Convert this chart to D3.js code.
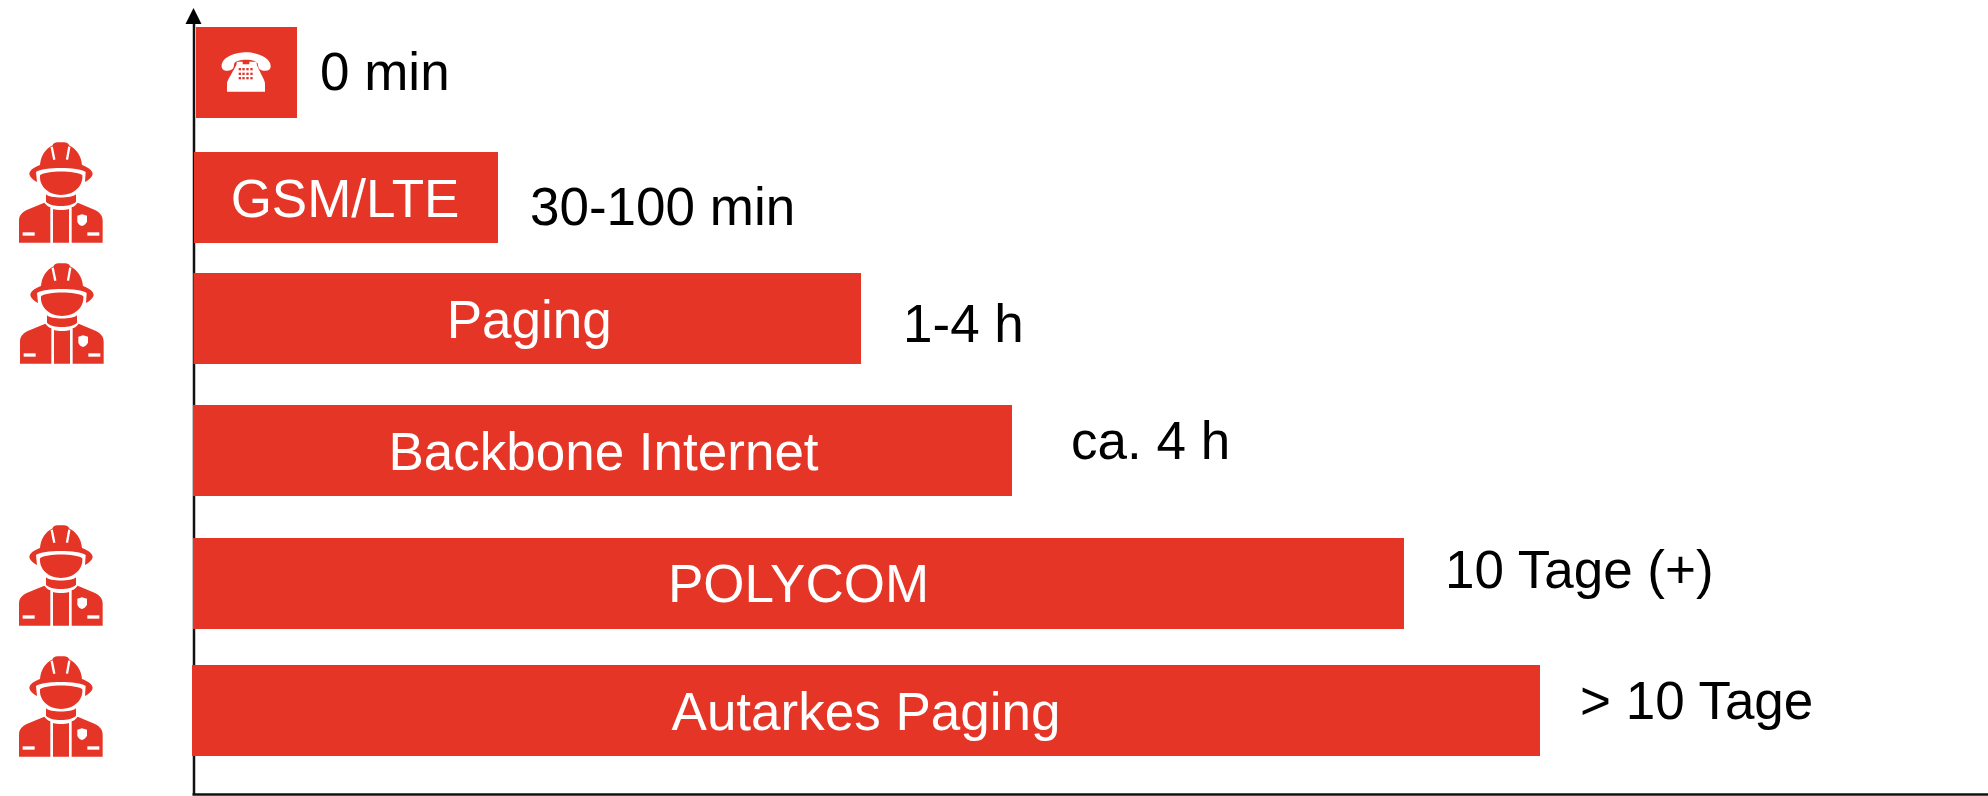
<!DOCTYPE html>
<html>
<head>
<meta charset="utf-8">
<script src="https://cdn.jsdelivr.net/npm/d3@7"></script>
<style>
    html, body { margin: 0; padding: 0; background: #fff; overflow: hidden; }
    text { font-family: "Liberation Sans", Arial, sans-serif; }
</style>
</head>
<body>
<svg id="chart" width="1988" height="796"></svg>
<script>
// Chart data (schematic time axis, no unit)
const categories = ["Telefon", "GSM/LTE", "Paging", "Backbone Internet", "POLYCOM", "Autarkes Paging"];
const barLabels = ["", "GSM/LTE", "Paging", "Backbone Internet", "POLYCOM", "Autarkes Paging"];
const barStart = [4, 2, 1.5, 1, 1, 0];
const barEnd = [105, 306, 669, 820, 1212, 1348];
const durations = ["0 min", "30-100 min", "1-4 h", "ca. 4 h", "10 Tage (+)", "> 10 Tage"];
const withResponder = [false, true, true, false, true, true];

const red = "#e53527";
const svg = d3.select("#chart");

const x = d3.scaleLinear().domain([0, 1796]).range([192, 1988]);
const yAxisScale = d3.scaleLinear().domain([0, 1]).range([794, 22]);

// Rows are not evenly spaced in the original
const barTop = d3.scaleOrdinal().domain(categories).range([27, 152, 273, 405, 538, 665]);
const barHeight = 91;
const labelBaseline = d3.scaleOrdinal().domain(categories).range([0, 217, 338, 470, 602, 730]);
const labelShift = d3.scaleOrdinal().domain(categories).range([0, -1, 2, 1, 0, 0]);
const durationX = d3.scaleOrdinal().domain(categories).range([320, 530, 903, 1071, 1445, 1580]);
const durationY = d3.scaleOrdinal().domain(categories).range([90, 225, 342, 459, 588, 719]);
const iconShift = d3.scaleOrdinal().domain(categories).range([[0, 0], [0, 0], [1, 121], [0, 0], [0, 383], [0, 514]]);

//Axes, no ticks
const xAxis = svg.append("g")
    .attr("transform", `translate(0,${yAxisScale(0)})`)
    .call(d3.axisBottom(x).tickValues([]).tickSizeOuter(0));
const yAxis = svg.append("g")
    .attr("transform", `translate(${x(1.5)},0)`)
    .call(d3.axisLeft(yAxisScale).tickValues([]).tickSizeOuter(0));
xAxis.select(".domain").attr("stroke", "#111").attr("stroke-width", 2.5);
yAxis.select(".domain").attr("stroke", "#111").attr("stroke-width", 2.5);

svg.append("polygon")
    .attr("points", "0,-16 8,0 -8,0")
    .attr("fill", "#000")
    .attr("transform", `translate(${x(1.5)},${yAxisScale(1) + 2})`);

//Bars
categories.forEach((c, i) => {
    svg.append("rect")
        .attr("x", x(barStart[i]))
        .attr("y", barTop(c))
        .attr("width", x(barEnd[i]) - x(barStart[i]))
        .attr("height", barHeight)
        .attr("fill", red);
});

//Labels
categories.forEach((c, i) => {
    if (barLabels[i]) {
        svg.append("text")
            .attr("x", (x(barStart[i]) + x(barEnd[i])) / 2 + labelShift(c))
            .attr("y", labelBaseline(c))
            .attr("text-anchor", "middle")
            .attr("fill", "#fff")
            .style("font-size", "53px")
            .text(barLabels[i]);
    }
    svg.append("text")
        .attr("x", durationX(c))
        .attr("y", durationY(c))
        .attr("fill", "#000")
        .style("font-size", "53px")
        .text(durations[i]);
});

//Firefighter icon, drawn at 3x and scaled down
function drawResponder(dx, dy) {
    const g = svg.append("g").attr("transform", `translate(${dx},${dy}) scale(${1 / 3})`);
    const parts = [
        "M120 495C122 468 136 447 158 436C160 428 166 427 182 427C199 427 205 428 207 436C229 447 244 468 246 495C262 501 278 511 278 522C276 532 266 541 255 546L257 516C235 500 130 500 108 516L111 546C100 541 90 532 88 522C88 511 104 501 120 495Z",
        "M120 526C140 511 226 511 247 526C250 560 220 585 183 585C146 585 117 560 120 526Z",
        "M138 583C150 596 215 596 228 583L228 605C215 622 150 622 138 605Z",
        "M133 608C138 615 145 620 151 622L151 728L57 728L57 662C57 648 65 637 80 630Z",
        "M159 627C172 631 195 631 207 627L207 728L159 728Z",
        "M233 608C228 615 222 620 215 622L215 728L308 728L308 662C308 648 300 637 285 630Z"
    ];
    parts.forEach(d => g.append("path").attr("d", d).attr("fill", red));
    g.append("path").attr("d", "M155 440L163 479M208 440L201 479")
        .attr("stroke", "#fff").attr("stroke-width", 7).attr("fill", "none");
    g.append("rect").attr("x", 68).attr("y", 697).attr("width", 36).attr("height", 10).attr("fill", "#fff");
    g.append("rect").attr("x", 262).attr("y", 697).attr("width", 36).attr("height", 10).attr("fill", "#fff");
    g.append("path").attr("d", "M232 647L246 643L261 647L261 665C258 672 250 677 246 678C241 677 234 672 232 665Z").attr("fill", "#fff");
}

categories.forEach((c, i) => {
    if (withResponder[i]) drawResponder(iconShift(c)[0], iconShift(c)[1]);
});

//Telephone icon in the first bar
const phone = svg.append("g").attr("transform", `scale(${1 / 3})`);
phone.append("path")
    .attr("d", "M665 200C663 170 710 157 738 157C766 157 813 170 812 200C812 207 806 212 795 212C785 212 776 208 775 200L773 190C765 176 710 176 703 190L701 200C700 208 690 212 680 212C672 212 665 207 665 200Z")
    .attr("fill", "#fff");
phone.append("path")
    .attr("d", "M710 192L710 185L728 185L728 193L748 193L748 185L770 185L770 192C775 210 795 240 795 250L795 275L681 275L681 250C681 240 703 210 710 192Z")
    .attr("fill", "#fff");
[208, 222, 235].forEach(ky => {
    [720, 731, 743, 755].forEach(kx => {
        phone.append("rect").attr("x", kx - 4).attr("y", ky - 4).attr("width", 7).attr("height", 7).attr("fill", red);
    });
});
</script>
</body>
</html>
